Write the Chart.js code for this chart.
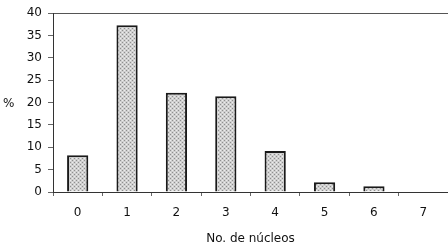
<!DOCTYPE html>
<html>
<head>
<meta charset="utf-8">
<script src="https://cdn.jsdelivr.net/npm/chart.js@4/dist/chart.umd.min.js"></script>
<style>
  body { margin: 0; background: #fff; }
  #wrap { width: 448px; height: 251px; position: relative; }
</style>
</head>
<body>
<div id="wrap"><canvas id="c"></canvas></div>
<script>
const categories = ['0', '1', '2', '3', '4', '5', '6', '7'];
const percentValues = [8.2, 37.3, 22.2, 21.4, 9.2, 2.2, 1.3, 0];
const yTicks = [0, 5, 10, 15, 20, 25, 30, 35, 40];

// grey speckled fill like the scanned bars
function makePattern() {
  let p = document.createElement('canvas');
  p.width = 4;
  p.height = 4;
  let g = p.getContext('2d');
  g.fillStyle = '#cfcfcf';
  g.fillRect(0, 0, 4, 4);
  g.fillStyle = '#8f8f8f';
  g.fillRect(0, 0, 1, 1);
  g.fillRect(2, 2, 1, 1);
  g.fillStyle = '#ececec';
  g.fillRect(2, 0, 1, 1);
  g.fillRect(0, 2, 1, 1);
  return g.createPattern(p, 'repeat');
};

const font = { family: '"DejaVu Sans", sans-serif', size: 12 };

// the "%" title stands upright left of the axis
const percentLabel = {
  id: 'percentLabel',
  afterDraw(chart) {
    let ctx = chart.ctx;
    let y = chart.scales.y.getPixelForValue(20);
    ctx.save();
    ctx.font = '12px "DejaVu Sans", sans-serif';
    ctx.fillStyle = '#111';
    ctx.textAlign = 'left';
    ctx.textBaseline = 'middle';
    ctx.fillText('%', 3, y + 1);
    ctx.restore();
  }
};

new Chart(document.getElementById('c'), {
  type: 'bar',
  data: {
    labels: categories,
    datasets: [{
      data: percentValues,
      backgroundColor: makePattern(),
      borderColor: '#1a1a1a',
      borderWidth: 2,
      borderSkipped: 'bottom',
      barPercentage: 0.43,
      categoryPercentage: 1
    }]
  },
  options: {
    responsive: true,
    maintainAspectRatio: false,
    animation: false,
    layout: { padding: { left: 0, right: 0, top: 12, bottom: 0 } },
    plugins: {
      legend: { display: false },
      tooltip: { enabled: false }
    },
    scales: {
      x: {
        afterFit: axis => { axis.height = 59; },
        grid: {
          offset: true,
          drawOnChartArea: false,
          tickLength: 4,
          tickColor: '#666'
        },
        border: { color: '#333', width: 1 },
        ticks: { color: '#111', font: font, padding: 10 },
        title: {
          display: true,
          text: 'No. de núcleos',
          color: '#111',
          font: font,
          padding: { top: 4, bottom: 5 }
        }
      },
      y: {
        min: 0,
        max: 40,
        afterBuildTicks: axis => { axis.ticks = yTicks.map(v => ({ value: v })); },
        afterFit: axis => { axis.width = 53; },
        grid: {
          color: c => (c.tick && c.tick.value === 40) ? '#555' : 'transparent',
          tickColor: '#666',
          tickLength: 5
        },
        border: { color: '#333', width: 1 },
        ticks: { color: '#111', font: font, padding: 6 }
      }
    }
  },
  plugins: [percentLabel]
});
</script>
</body>
</html>
